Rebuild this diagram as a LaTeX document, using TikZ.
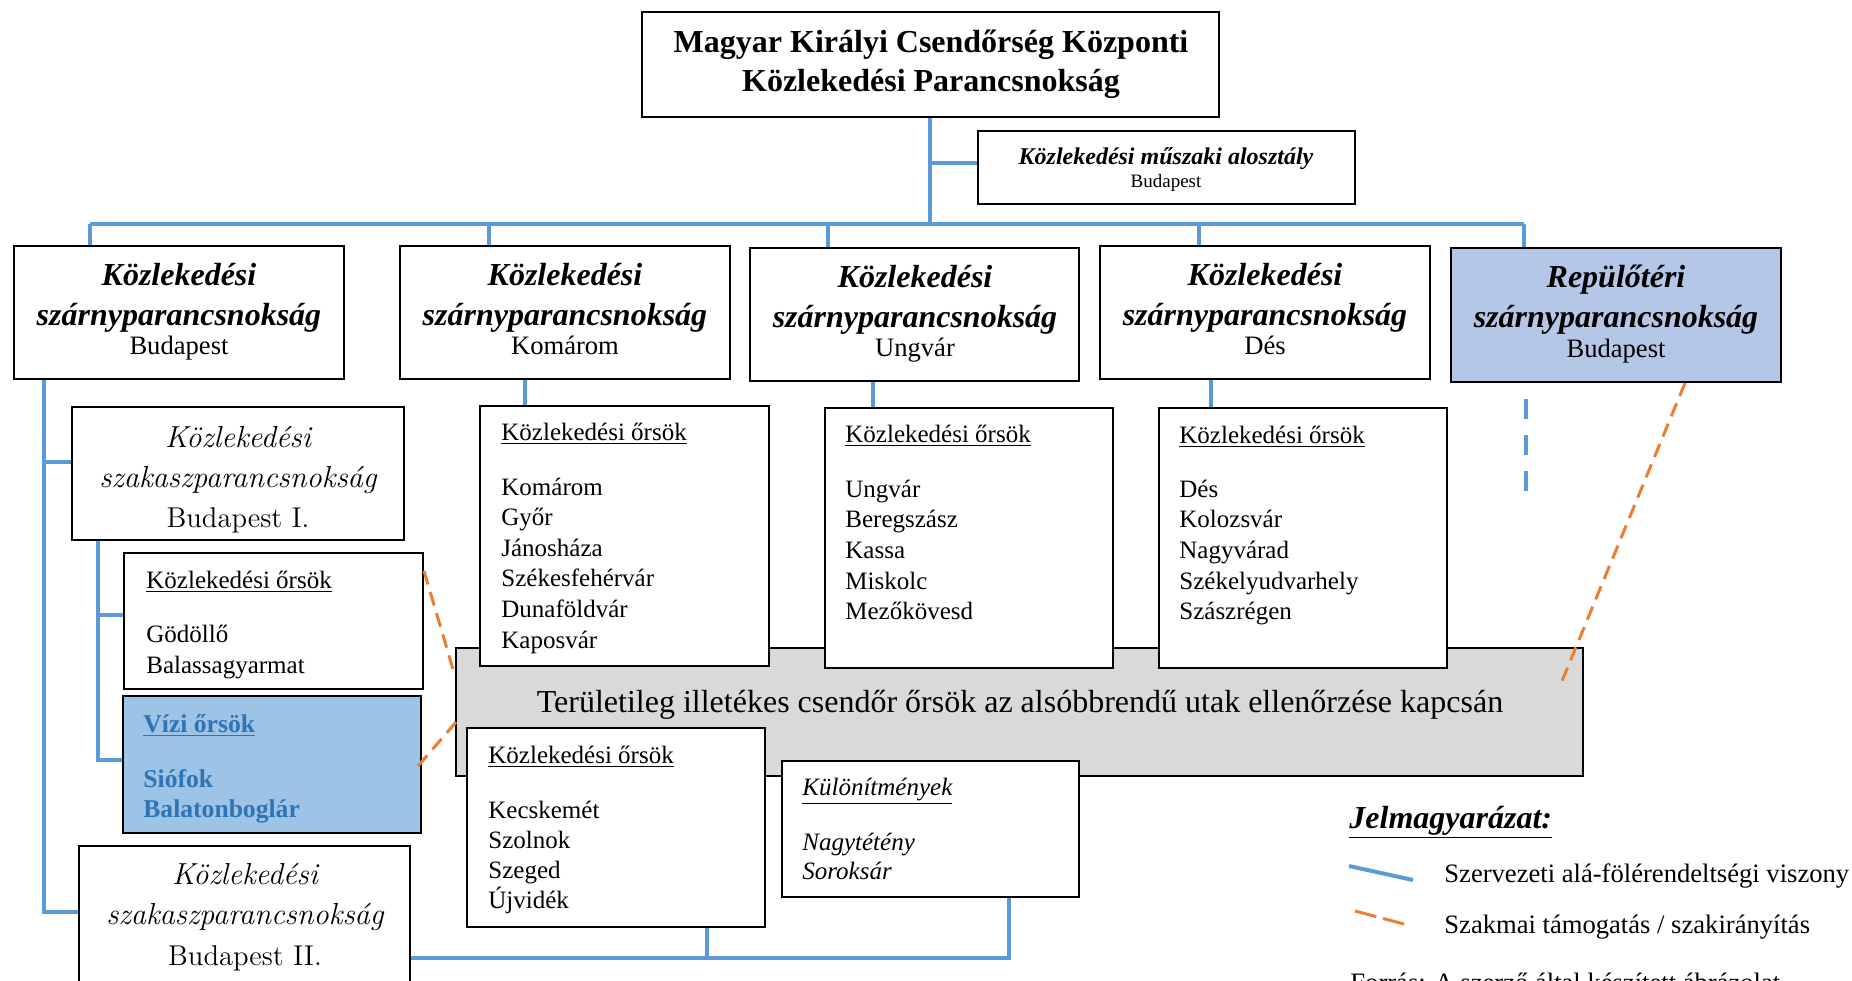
\documentclass[tikz,border=0pt]{standalone}
\usepackage{fontspec}
\newfontfamily\tnr{Liberation Serif}
\usetikzlibrary{fit,calc}
\definecolor{orgblue}{HTML}{5B9BD5}
\definecolor{orgorange}{HTML}{ED7D31}
\definecolor{grayfill}{HTML}{D9D9D9}
\definecolor{repfill}{HTML}{B4C7E7}
\definecolor{vizifill}{HTML}{9DC3E6}
\definecolor{vizitext}{HTML}{2E75B6}
\begin{document}
\begin{tikzpicture}[x=0.5pt,y=-0.5pt,
  box/.style={draw=black,line width=1pt,fill=white,inner sep=0pt},
  rel/.style={draw=orgblue,line width=2pt},
  prof/.style={draw=orgorange,line width=1.5pt,dash pattern=on 7pt off 4pt},
  lbl/.style={inner sep=0pt,anchor=base,font=\tnr},
  lleft/.style={inner sep=0pt,anchor=base west,font=\tnr},
  ttl/.style={lbl,font=\tnr\bfseries\fontsize{16}{19}\selectfont},
  wttl/.style={lbl,font=\tnr\bfseries\itshape\fontsize{16}{19}\selectfont},
  wcity/.style={lbl,font=\tnr\fontsize{13.3}{15}\selectfont},
  szttl/.style={lbl,font=\rmfamily\itshape\fontsize{15.2}{18}\selectfont},
  szcity/.style={lbl,font=\rmfamily\fontsize{14.3}{17}\selectfont},
  city/.style={lleft,font=\tnr\fontsize{12.5}{15}\selectfont},
  vcity/.style={lleft,font=\tnr\bfseries\fontsize{12.8}{15}\selectfont,text=vizitext},
  icity/.style={lleft,font=\tnr\itshape\fontsize{12.5}{15}\selectfont},
  legtxt/.style={lleft,font=\tnr\fontsize{13.3}{16}\selectfont}
]
\useasboundingbox (0,0) rectangle (1852,980);

% ---------- top level ----------
\node[box,fit={(642,12)(1219,117)}] (main) {};
\node[ttl] (mainT1) at (931,52) {Magyar Királyi Csendőrség Központi};
\node[ttl] (mainT2) at (931,91) {Közlekedési Parancsnokság};

\node[box,fit={(978,131)(1355,204)}] (alo) {};
\node[lbl,font=\tnr\bfseries\itshape\fontsize{12}{14}\selectfont] (aloT1) at (1166,164) {Közlekedési műszaki alosztály};
\node[lbl,font=\tnr\fontsize{9.5}{11}\selectfont] (aloT2) at (1166,187) {Budapest};

% ---------- wing commands ----------
\node[box,fit={(14,246)(344,379)}] (wA) {};
\node[wttl] (wA1) at (179,285) {Közlekedési};
\node[wttl] (wA2) at (179,325) {szárnyparancsnokság};
\node[wcity] (wA3) at (179,354) {Budapest};

\node[box,fit={(400,246)(730,379)}] (wB) {};
\node[wttl] (wB1) at (565,285) {Közlekedési};
\node[wttl] (wB2) at (565,325) {szárnyparancsnokság};
\node[wcity] (wB3) at (565,354) {Komárom};

\node[box,fit={(750,248)(1079,381)}] (wC) {};
\node[wttl] (wC1) at (915,287) {Közlekedési};
\node[wttl] (wC2) at (915,327) {szárnyparancsnokság};
\node[wcity] (wC3) at (915,356) {Ungvár};

\node[box,fit={(1100,246)(1430,379)}] (wD) {};
\node[wttl] (wD1) at (1265,285) {Közlekedési};
\node[wttl] (wD2) at (1265,325) {szárnyparancsnokság};
\node[wcity] (wD3) at (1265,354) {Dés};

\node[box,fill=repfill,fit={(1451,248)(1781,382)}] (wE) {};
\node[wttl] (wE1) at (1616,287) {Repülőtéri};
\node[wttl] (wE2) at (1616,327) {szárnyparancsnokság};
\node[wcity] (wE3) at (1616,357) {Budapest};

% ---------- section commands ----------
\node[box,fit={(72,407)(404,540)}] (bp1) {};
\node[szttl] (bp1a) at (238,447) {Közlekedési};
\node[szttl] (bp1b) at (238,487) {szakaszparancsnokság};
\node[szcity] (bp1c) at (238,527) {Budapest I.};

\node[box,fit={(79,846)(410,1000)}] (bp2) {};
\node[szttl] (bp2a) at (245,884) {Közlekedési};
\node[szttl] (bp2b) at (245,924) {szakaszparancsnokság};
\node[szcity] (bp2c) at (245,965) {Budapest II.};

% ---------- grey band ----------
\node[box,fill=grayfill,fit={(456,648)(1583,776)}] (gray) {};
\node[lbl,font=\tnr\fontsize{16}{19}\selectfont] (grayT) at (1020,712) {Területileg illetékes csendőr őrsök az alsóbbrendű utak ellenőrzése kapcsán};

% ---------- posts ----------
\node[box,fit={(480,406)(769,666)}] (kom) {};
\node[city] (komH) at (501,440) {\underline{Közlekedési őrsök}};
\foreach \c [count=\i from 0] in {Komárom,Győr,Jánosháza,Székesfehérvár,Dunaföldvár,Kaposvár}
  \node[city] (komC\i) at (501,{495+30.6*\i}) {\c};

\node[box,fit={(825,408)(1113,668)}] (ung) {};
\node[city] (ungH) at (845,442) {\underline{Közlekedési őrsök}};
\foreach \c [count=\i from 0] in {Ungvár,Beregszász,Kassa,Miskolc,Mezőkövesd}
  \node[city] (ungC\i) at (845,{497+30.7*\i}) {\c};

\node[box,fit={(1159,408)(1447,668)}] (des) {};
\node[city] (desH) at (1179,443) {\underline{Közlekedési őrsök}};
\foreach \c [count=\i from 0] in {Dés,Kolozsvár,Nagyvárad,Székelyudvarhely,Szászrégen}
  \node[city] (desC\i) at (1179,{497+30.7*\i}) {\c};

\node[box,fit={(124,553)(423,689)}] (god) {};
\node[city] (godH) at (146,588) {\underline{Közlekedési őrsök}};
\node[city] (godC0) at (146,642) {Gödöllő};
\node[city] (godC1) at (146,673) {Balassagyarmat};

\node[box,fill=vizifill,fit={(123,696)(421,833)}] (vizi) {};
\node[vcity] (viziH) at (143,732) {\underline{Vízi őrsök}};
\node[vcity] (viziC0) at (143,787) {Siófok};
\node[vcity] (viziC1) at (143,817) {Balatonboglár};

\node[box,fit={(467,728)(765,927)}] (kecs) {};
\node[city] (kecsH) at (488,763) {\underline{Közlekedési őrsök}};
\foreach \c [count=\i from 0] in {Kecskemét,Szolnok,Szeged,Újvidék}
  \node[city] (kecsC\i) at (488,{818+30*\i}) {\c};

\node[box,fit={(782,761)(1079,897)}] (kul) {};
\node[icity] (kulH) at (802,795) {\underline{Különítmények}};
\node[icity] (kulC0) at (802,850) {Nagytétény};
\node[icity] (kulC1) at (802,879) {Soroksár};

% ---------- organisational connectors ----------
\coordinate (trunkBus) at (930,224);
\coordinate (trunkAlo) at (930,163);
\draw[rel] (main.south -| trunkBus) -- (trunkBus);
\draw[rel] (trunkAlo) -- (alo.west |- trunkAlo);
\coordinate (busL) at (90,224);
\coordinate (busR) at (1524,224);
\coordinate (busB) at (489,224);
\coordinate (busC) at (828,224);
\coordinate (busD) at (1199,224);
\draw[rel] (busL) -- (busR);
\draw[rel] (busL) -- (wA.north -| busL);
\draw[rel] (busB) -- (wB.north -| busB);
\draw[rel] (busC) -- (wC.north -| busC);
\draw[rel] (busD) -- (wD.north -| busD);
\draw[rel] (busR) -- (wE.north -| busR);

\coordinate (lv) at (44,912);
\coordinate (lvI) at (44,462);
\draw[rel] (wA.south -| lv) -- (lv) -- (bp2.west |- lv);
\draw[rel] (lvI) -- (bp1.west |- lvI);
\coordinate (iv) at (98,760);
\coordinate (ivG) at (98,615);
\draw[rel] (bp1.south -| iv) -- (iv) -- (vizi.west |- iv);
\draw[rel] (ivG) -- (god.west |- ivG);

\coordinate (dK) at (525,0);
\coordinate (dU) at (873,0);
\coordinate (dD) at (1211,0);
\draw[rel] (wB.south -| dK) -- (kom.north -| dK);
\draw[rel] (wC.south -| dU) -- (ung.north -| dU);
\draw[rel] (wD.south -| dD) -- (des.north -| dD);

\coordinate (bb) at (1009,958);
\coordinate (bk) at (707,958);
\draw[rel] (bp2.east |- bb) -- (bb) -- (kul.south -| bb);
\draw[rel] (kecs.south -| bk) -- (bk);

\draw[rel,dash pattern=on 10pt off 8pt] ($(wE.south west)+(76,16)$) -- ++(0,95);

% ---------- professional connectors ----------
\draw[prof] ($(god.north east)+(0,19)$) -- ($(gray.north west)+(0,29)$);
\draw[prof] ($(vizi.north east)+(-4,71)$) -- ($(gray.north west)+(2,74)$);
\draw[prof] ($(wE.south west)+(235,0)$) -- ($(gray.north east)+(-22,34)$);

% ---------- legend ----------
\node[lleft,font=\tnr\bfseries\itshape\fontsize{16}{19}\selectfont] (leg) at (1349,828) {\underline{Jelmagyarázat:}};
\coordinate (lb1) at (1349,866);
\coordinate (lb2) at (1413,880);
\draw[rel] (lb1) -- (lb2);
\node[legtxt] (leg1) at (1444,882) {Szervezeti alá-fölérendeltségi viszony};
\coordinate (lo1) at (1355,911);
\coordinate (lo2) at (1404,924);
\draw[prof,dash pattern=on 11pt off 3.5pt] (lo1) -- (lo2);
\node[legtxt] (leg2) at (1444,933) {Szakmai támogatás / szakirányítás};
\node[legtxt] (src) at (1350,991) {Forrás: A szerző által készített ábrázolat};
\end{tikzpicture}
\end{document}
